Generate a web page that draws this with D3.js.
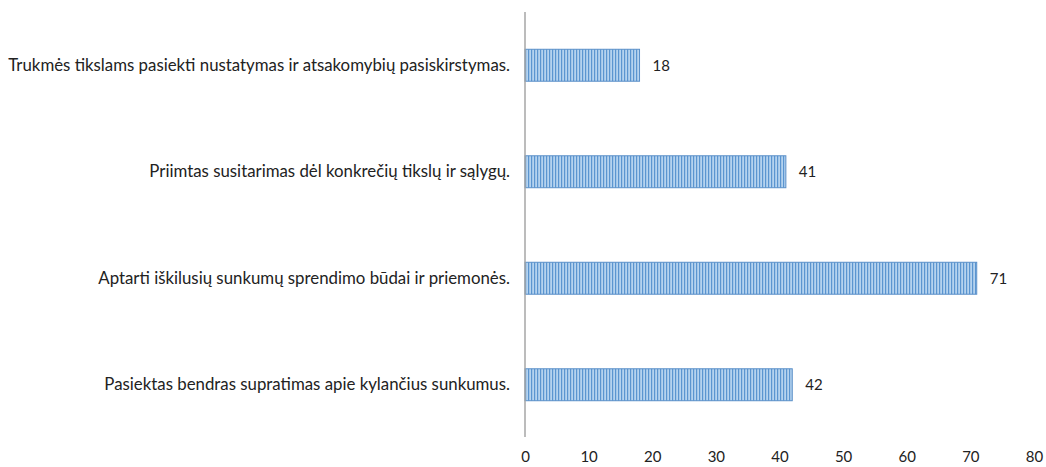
<!DOCTYPE html>
<html><head><meta charset="utf-8">
<script src="https://cdn.jsdelivr.net/npm/d3@7/dist/d3.min.js"></script>
<style>body{margin:0;background:#fff}svg text{font-family:Lato,"Open Sans",sans-serif;fill:#222}</style>
</head><body><svg id="c" width="1046" height="467"></svg>
<script>
const categories = [
  "Trukmės tikslams pasiekti nustatymas ir atsakomybių pasiskirstymas.",
  "Priimtas susitarimas dėl konkrečių tikslų ir sąlygų.",
  "Aptarti iškilusių sunkumų sprendimo būdai ir priemonės.",
  "Pasiektas bendras supratimas apie kylančius sunkumus."
];
const values = [18, 41, 71, 42];
const xTicks = [0, 10, 20, 30, 40, 50, 60, 70, 80];
const FONT = 'Lato,"Open Sans",sans-serif';

const svg = d3.select("#c");
const x = d3.scaleLinear().domain([0, 80]).range([525, 1034]);
const y = d3.scaleBand().domain(categories).range([12, 438]).paddingInner(0.7).paddingOuter(0.35);

const defs = svg.append("defs");
const pat = defs.append("pattern").attr("id", "stripes").attr("patternUnits", "userSpaceOnUse")
  .attr("width", 3).attr("height", 10);
pat.append("rect").attr("width", 3).attr("height", 10).attr("fill", "#b5d3ef");
pat.append("rect").attr("x", 0).attr("width", 1.2).attr("height", 10).attr("fill", "#5b95d0");

svg.append("g").selectAll("rect").data(values).join("rect")
  .attr("x", x(0)).attr("y", (d, i) => y(categories[i]))
  .attr("width", d => x(d) - x(0)).attr("height", y.bandwidth())
  .attr("fill", "url(#stripes)").attr("stroke", "#5a8fc8").attr("stroke-width", 1);

svg.append("g").selectAll("text").data(values).join("text")
  .attr("x", d => x(d) + 13).attr("y", (d, i) => y(categories[i]) + y.bandwidth() / 2)
  .attr("dy", "0.35em").attr("font-size", 15).text(d => d);

// y axis
const ya = svg.append("g").attr("transform", `translate(${x(0)},0)`)
  .call(d3.axisLeft(y).tickSize(0).tickPadding(15));
ya.select(".domain").remove();
ya.selectAll("text").attr("font-size", 15).style("font-family", FONT).attr("fill", "#222");
// fit label width to reference (~502px for the longest label)
const longest = d3.max(ya.selectAll("text").nodes(), n => n.getComputedTextLength());
const fs = 15 * 502 / longest;
ya.selectAll("text").attr("font-size", fs);
svg.append("line").attr("x1", x(0)).attr("x2", x(0)).attr("y1", 12).attr("y2", 437)
  .attr("stroke", "#a6a6a6").attr("stroke-width", 1.5);

// x axis
const xa = svg.append("g").attr("transform", "translate(0,445)")
  .call(d3.axisBottom(x).tickValues(xTicks).tickSize(0).tickPadding(6));
xa.select(".domain").remove();
xa.selectAll("text").attr("font-size", 15).style("font-family", FONT).attr("fill", "#222");
</script></body></html>
